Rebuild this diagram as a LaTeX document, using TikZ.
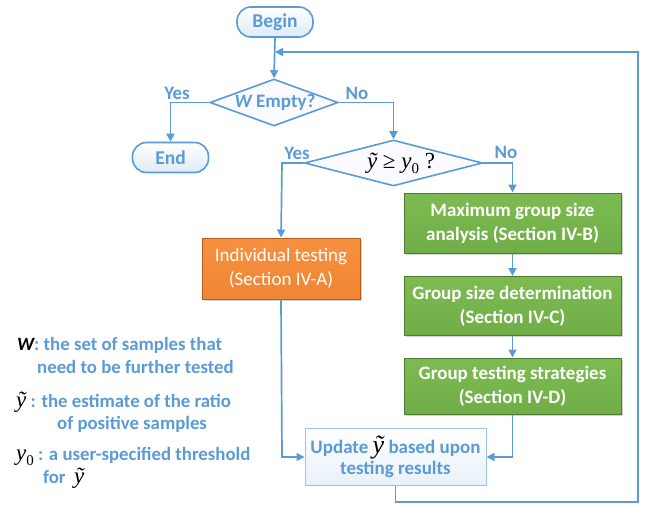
\documentclass[tikz,border=0pt]{standalone}
\usepackage{fontspec}
\setmainfont{Carlito}
\newfontfamily\tms{Liberation Serif}
\usetikzlibrary{arrows.meta,shapes.geometric,shadows}
\definecolor{lineblue}{HTML}{5B9BD5}
\definecolor{txtblue}{HTML}{5B9BD5}
\definecolor{palebl}{HTML}{DEEBF7}
\definecolor{grn}{HTML}{70AD47}
\definecolor{grnlight}{HTML}{7DBB52}
\definecolor{grndark}{HTML}{4E7C30}
\definecolor{org}{HTML}{F08535}
\definecolor{orglight}{HTML}{F6913F}
\definecolor{orgdark}{HTML}{B95A1D}
\definecolor{updborder}{HTML}{9DC3E6}
% serif italic symbols: y with tilde, and y with subscript 0
\newcommand{\ysym}[1]{{\tms\mdseries\fontsize{#1}{#1}\selectfont\itshape ỹ}}
\newcommand{\yzero}[1]{{\tms\mdseries\fontsize{#1}{#1}\selectfont\itshape y\upshape\raisebox{-0.22em}{\scalebox{0.65}{0}}}}
\tikzset{
  x=1pt, y=-1pt,
  flow/.style={draw=lineblue, line width=1.7pt, -{Triangle[length=8pt,width=8pt]}},
  term/.style={draw=lineblue, line width=1.6pt, rounded corners=14pt,
    top color=white, bottom color=palebl, minimum width=76pt, minimum height=30pt,
    font=\fontsize{19.5}{22}\selectfont\bfseries, text=txtblue, inner sep=0pt},
  dec/.style={diamond, draw=lineblue, line width=1.6pt, fill=blue!2,
    inner sep=0pt, aspect=2.5},
  greenbox/.style={draw=grndark, line width=1pt, top color=grnlight, bottom color=grn,
    minimum width=217pt, align=center, text=white, inner sep=0pt,
    font=\fontsize{19}{24}\selectfont\bfseries,
    drop shadow={opacity=0.35, shadow xshift=1.5pt, shadow yshift=-1.5pt}},
  orangebox/.style={draw=orgdark, line width=1pt, top color=orglight, bottom color=org,
    minimum width=158pt, minimum height=61pt, align=center, text=white, inner sep=0pt,
    font=\fontsize{19}{24}\selectfont,
    drop shadow={opacity=0.35, shadow xshift=1.5pt, shadow yshift=-1.5pt}},
  updbox/.style={draw=updborder, line width=1pt, top color=white, bottom color=palebl!70,
    minimum width=181pt, minimum height=57pt, align=center, text=txtblue, inner sep=0pt,
    font=\fontsize{19}{24}\selectfont\bfseries},
  lbl/.style={text=txtblue, font=\fontsize{19}{22}\selectfont\bfseries, inner sep=0pt},
  legend/.style={text=txtblue, font=\fontsize{18.8}{22}\selectfont\bfseries,
    inner sep=0pt, anchor=base west},
}
\begin{document}
\begin{tikzpicture}
\useasboundingbox (0,0) rectangle (646,504);

% terminals
\node[term] (begin) at (275,22) {Begin};
\node[term] (end) at (170.5,157.5) {End};

% decisions
\node[dec, minimum width=128pt, minimum height=47pt] (wempty) at (274,102.5) {};
\node[lbl] (wtext) at (275,102.5) {\itshape W\upshape\ Empty?};
\node[dec, minimum width=178pt, minimum height=46pt] (ycheck) at (393.5,163) {};
\node[inner sep=0pt, font=\tms\fontsize{23}{24}\selectfont] (ytext) at (401,163)
  {\itshape ỹ \upshape≥ \itshape y\upshape\raisebox{-0.22em}{\scalebox{0.65}{0}} ?};

% process boxes
\node[orangebox] (indiv) at (281,268.5) {Individual testing\\(Section IV-A)};
\node[greenbox, minimum height=60pt] (maxg) at (512.5,223) {Maximum group size\\analysis (Section IV-B)};
\node[greenbox, minimum height=59pt] (gsize) at (512.5,306) {Group size determination\\(Section IV-C)};
\node[greenbox, minimum height=56pt] (gtest) at (512.5,386) {Group testing strategies\\(Section IV-D)};
\node[updbox] (update) at (395.5,456.5)
  {Update \textcolor{black}{\ysym{26}} based upon\\[-3pt]testing results};

% corner points of the connectors
\coordinate (loopin) at (275,52);
\coordinate (yesA) at (170.5,102.5);
\coordinate (noA) at (393.5,102.5);
\coordinate (yesB) at (282,163);
\coordinate (noB) at (512.5,163);
\coordinate (leftin) at (282,457);
\coordinate (rightin) at (512.5,457);
\coordinate (bot) at (395.5,502);
\coordinate (botr) at (638,502);
\coordinate (topr) at (638,52);

% connectors
\draw[flow] (begin.south) -- (wempty.north);
\draw[flow] (wempty.west) -- (yesA) -- (end.north);
\draw[flow] (wempty.east) -- (noA) -- (ycheck.north);
\draw[flow] (ycheck.west) -- (yesB) -- (indiv.north);
\draw[flow] (ycheck.east) -- (noB) -- (maxg.north);
\draw[flow] (maxg.south) -- (gsize.north);
\draw[flow] (gsize.south) -- (gtest.north);
\draw[flow] (indiv.south) -- (leftin) -- (update.west |- leftin);
\draw[flow] (gtest.south) -- (rightin) -- (update.east |- rightin);
\draw[flow] (update.south) -- (bot) -- (botr) -- (topr) -- (loopin);

% branch labels
\node[lbl] (yes1) at (177,93) {Yes};
\node[lbl] (no1) at (357,93) {No};
\node[lbl] (yes2) at (297,153) {Yes};
\node[lbl] (no2) at (506,152) {No};

% legend
\node[legend] (l1) at (17,350) {\textcolor{black}{\itshape W}: the set of samples that};
\node[legend] (l2) at (37,373) {need to be further tested};
\node[legend] (l3) at (16,407) {\textcolor{black}{\ysym{23}} : the estimate of the ratio};
\node[legend] (l4) at (57,429) {of positive samples};
\node[legend] (l5) at (16,460) {\textcolor{black}{\yzero{23}} : a user-specified threshold};
\node[legend] (l6) at (43,483) {for \ \textcolor{black}{\ysym{23}}};
\end{tikzpicture}
\end{document}
